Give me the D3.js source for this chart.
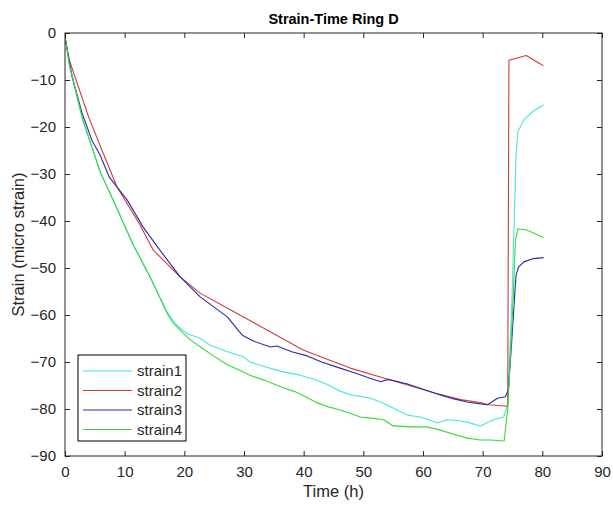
<!DOCTYPE html>
<html>
<head>
<meta charset="utf-8">
<script src="https://cdn.jsdelivr.net/npm/d3@7"></script>
<style>
  body { margin: 0; background: #fff; }
  text { font-family: "Liberation Sans", Arial, sans-serif; }
</style>
</head>
<body>
<svg id="canvas" width="613" height="510"></svg>
<script>
let xTicks = [0, 10, 20, 30, 40, 50, 60, 70, 80, 90];
let yTicks = [0, -10, -20, -30, -40, -50, -60, -70, -80, -90];

let seriesNames = ['strain1', 'strain2', 'strain3', 'strain4'];
let seriesColors = ['#45e5e5', '#d43a3a', '#2b2ba3', '#3ad83a'];

// time (h) and strain for each gauge
let time1 = [0, 0.7, 2.9, 5.9, 8.4, 11.4, 14.3, 17.1, 17.9, 19, 20.5, 22.7, 24.3, 27, 29.9, 31, 33.5, 36.6, 39.4, 41.6, 44, 46.1, 48, 51.2, 53.4, 55, 57.4, 59.5, 61, 62.4, 64.1, 66.3, 68, 69.6, 71.8, 73.5, 74.2, 74.9, 75.6, 75.9, 76.9, 78.5, 80.2];
let strain1 = [-0.5, -6.8, -18.3, -29.6, -36.5, -45, -52, -59.3, -60.8, -62.5, -64, -65, -66.4, -67.7, -68.9, -70, -71, -72.1, -72.8, -73.6, -74.8, -76.2, -77, -77.7, -78.8, -79.8, -81.3, -81.7, -82.3, -83, -82.3, -82.5, -83, -83.6, -82.3, -81.7, -79, -57, -26, -21, -18.5, -16.6, -15.3];

let time2 = [0, 0.7, 4, 6.4, 8.7, 12.6, 14.8, 19.3, 22.7, 27.7, 35, 40, 47.8, 53.4, 62, 66.3, 69.6, 71, 74.2, 74.4, 77.3, 79.7, 80.2];
let strain2 = [-1, -5.7, -18, -25.6, -32.7, -40.9, -46.2, -51.9, -55.4, -58.9, -64, -67.5, -71.3, -73.4, -76.6, -78, -78.6, -79.1, -79.4, -5.8, -4.8, -6.6, -7];

let time3 = [0, 1.2, 2.85, 4.5, 5.9, 7.4, 10.4, 13.1, 15.9, 19.3, 22.7, 27.2, 29.7, 31.5, 34.4, 35.5, 38, 40.6, 43, 46.1, 48.5, 50.5, 52.9, 54.2, 57.4, 60, 62.9, 65, 67.4, 69, 70.8, 72.5, 73.8, 74.3, 74.9, 75.3, 75.6, 76, 76.9, 78.5, 80.2];
let strain3 = [-1, -9.3, -17, -22.8, -26, -30.6, -35.5, -41.3, -46.2, -51.9, -56.2, -60.4, -64.3, -65.5, -66.8, -66.6, -67.8, -68.7, -70, -71.3, -72.3, -73.2, -74.2, -73.7, -74.7, -75.8, -77, -77.8, -78.5, -78.8, -79.1, -77.7, -77.4, -76, -65, -57, -51.5, -49.8, -48.7, -48, -47.8];

let time4 = [0, 0.7, 2.9, 5.9, 8.4, 11.4, 14.3, 17.1, 18, 19.5, 21, 22.7, 25, 27.2, 29, 31, 33.2, 35, 36.6, 38.5, 40, 42.3, 44, 46.1, 48, 49.5, 51.7, 53.4, 55, 58, 60.7, 62.9, 65, 67.4, 69.6, 71.3, 73.6, 74.2, 75.1, 75.5, 75.9, 77.2, 80.2];
let strain4 = [-0.5, -6.5, -18, -29.5, -36.5, -45, -52, -59.6, -61.5, -63.5, -65.3, -66.8, -68.8, -70.6, -71.6, -72.8, -73.8, -74.7, -75.5, -76.3, -77.2, -78.7, -79.5, -80.2, -81, -81.7, -82, -82.3, -83.6, -83.8, -83.8, -84.5, -85.3, -86.2, -86.6, -86.6, -86.8, -80, -57, -44, -41.7, -41.8, -43.5];

let times = [time1, time2, time3, time4];
let strains = [strain1, strain2, strain3, strain4];

let plotLeft = 65, plotRight = 602, plotTop = 33, plotBottom = 456;
let axisColor = '#262626';

let canvas = d3.select('#canvas');

let xScale = d3.scaleLinear().domain([0, 90]).range([plotLeft, plotRight]);
let yScale = d3.scaleLinear().domain([-90, 0]).range([plotBottom, plotTop]);

// clip so the plot stays inside the box
canvas.append('defs').append('clipPath').attr('id', 'clip')
    .append('rect')
    .attr('x', plotLeft).attr('y', plotTop)
    .attr('width', plotRight - plotLeft).attr('height', plotBottom - plotTop);

let line = d3.line()
    .x((d) => xScale(d[0]))
    .y((d) => yScale(d[1]));

let plot = canvas.append('g').attr('clip-path', 'url(#clip)');

seriesNames.forEach((name, i) => {
    let pts = times[i].map((t, j) => [t, strains[i][j]]);
    plot.append('path')
        .datum(pts)
        .attr('d', line)
        .attr('fill', 'none')
        .attr('stroke', seriesColors[i])
        .attr('stroke-width', 1.1)
        .attr('stroke-linejoin', 'round');
});

// axes, ticks pointing inward like matlab
let styleAxis = (g) => {
    g.select('.domain').remove();
    g.selectAll('line').attr('stroke', axisColor);
    g.selectAll('text').attr('fill', axisColor).style('font-size', '15px');
};

canvas.append('g')
    .attr('transform', `translate(0,${plotBottom})`)
    .call(d3.axisBottom(xScale).tickValues(xTicks).tickSize(-5).tickPadding(10))
    .call(styleAxis);

canvas.append('g')
    .attr('transform', `translate(0,${plotTop})`)
    .call(d3.axisTop(xScale).tickValues(xTicks).tickSize(-5).tickFormat(''))
    .call(styleAxis);

canvas.append('g')
    .attr('transform', `translate(${plotLeft},0)`)
    .call(d3.axisLeft(yScale).tickValues(yTicks).tickSize(-5).tickPadding(9))
    .call(styleAxis);

canvas.append('g')
    .attr('transform', `translate(${plotRight},0)`)
    .call(d3.axisRight(yScale).tickValues(yTicks).tickSize(-5).tickFormat(''))
    .call(styleAxis);

canvas.append('rect')
    .attr('x', plotLeft).attr('y', plotTop)
    .attr('width', plotRight - plotLeft).attr('height', plotBottom - plotTop)
    .attr('fill', 'none')
    .attr('stroke', axisColor)
    .attr('stroke-width', 1);

// title and labels
canvas.append('text')
    .attr('x', (plotLeft + plotRight) / 2)
    .attr('y', 24)
    .attr('text-anchor', 'middle')
    .attr('font-weight', 'bold')
    .style('font-size', '14.5px')
    .attr('fill', '#000')
    .text('Strain-Time Ring D');

canvas.append('text')
    .attr('x', (plotLeft + plotRight) / 2)
    .attr('y', 497)
    .attr('text-anchor', 'middle')
    .style('font-size', '16.5px')
    .attr('fill', axisColor)
    .text('Time (h)');

canvas.append('text')
    .attr('transform', `translate(24,${(plotTop + plotBottom) / 2}) rotate(-90)`)
    .attr('text-anchor', 'middle')
    .style('font-size', '16.5px')
    .attr('fill', axisColor)
    .text('Strain (micro strain)');

// legend
let legend = canvas.append('g');
legend.append('rect')
    .attr('x', 78).attr('y', 355)
    .attr('width', 108).attr('height', 86)
    .attr('fill', '#fff')
    .attr('stroke', '#000')
    .attr('stroke-width', 1);

seriesNames.forEach((name, i) => {
    let y = 371 + i * 19.5;
    legend.append('line')
        .attr('x1', 83).attr('x2', 132)
        .attr('y1', y).attr('y2', y)
        .attr('stroke', seriesColors[i])
        .attr('stroke-width', 1.1);
    legend.append('text')
        .attr('x', 137)
        .attr('y', y + 5)
        .style('font-size', '15px')
        .attr('fill', axisColor)
        .text(name);
});
</script>
</body>
</html>
